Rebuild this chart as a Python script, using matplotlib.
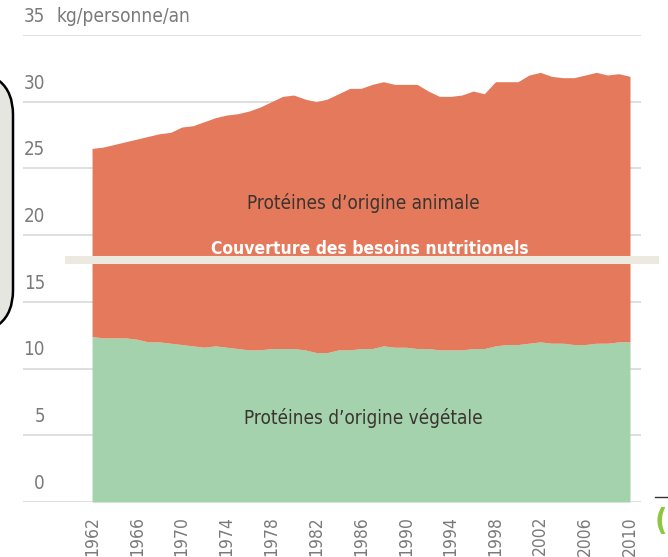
import numpy as np
import matplotlib
matplotlib.use('Agg')
import matplotlib.pyplot as plt
from matplotlib.patches import FancyBboxPatch

# values (kg/personne/an), one per year 1962-2010
years = list(range(1962, 2011))
total = [26.5, 26.6, 26.8, 27.0, 27.2, 27.4, 27.6, 27.7, 28.1, 28.2,
         28.5, 28.8, 29.0, 29.1, 29.3, 29.6, 30.0, 30.4, 30.5, 30.2,
         30.0, 30.2, 30.6, 31.0, 31.0, 31.3, 31.5, 31.3, 31.3, 31.3,
         30.8, 30.4, 30.4, 30.5, 30.8, 30.6, 31.5, 31.5, 31.5, 32.0,
         32.2, 31.9, 31.8, 31.8, 32.0, 32.2, 32.0, 32.1, 31.9]
vegetale = [12.4, 12.3, 12.3, 12.3, 12.2, 12.0, 12.0, 11.9, 11.8, 11.7,
            11.6, 11.7, 11.6, 11.5, 11.4, 11.4, 11.5, 11.5, 11.5, 11.4,
            11.2, 11.2, 11.4, 11.4, 11.5, 11.5, 11.7, 11.6, 11.6, 11.5,
            11.5, 11.4, 11.4, 11.4, 11.5, 11.5, 11.7, 11.8, 11.8, 11.9,
            12.0, 11.9, 11.9, 11.8, 11.8, 11.9, 11.9, 12.0, 12.0]
tick_years = list(range(1962, 2011, 4))
y_ticks = [0, 5, 10, 15, 20, 25, 30, 35]
besoins = 18.1

label_animale = "Protéines d\u2019origine animale"
label_vegetale = "Protéines d\u2019origine végétale"
label_besoins = "Couverture des besoins nutritionels"
unite = "kg/personne/an"

orange = '#E4795C'
green = '#A4D2AC'
beige = '#ECEAE0'
grey_txt = '#7A7A7A'

plt.rcParams['font.family'] = ['DejaVu Sans']
plt.rcParams['font.stretch'] = 'condensed'

fig = plt.figure(figsize=(6.68, 5.57), dpi=100)
W, H = 668, 557
ax = fig.add_axes([23 / W, (H - 502) / H, 618 / W, 467 / H])

years = np.array(years)
ax.fill_between(years, 0, vegetale, color=green, lw=0, zorder=2)
ax.fill_between(years, vegetale, total, color=orange, lw=0, zorder=2)

ax.set_xlim(1962 - 69 / 11.2, 2010 + 11 / 11.2)
ax.set_ylim(0, 35)

ax.set_yticks(y_ticks)
ax.yaxis.grid(True, color='#DCDCDC', lw=1.3, zorder=0)
ax.tick_params(axis='y', length=0, labelleft=False)
for s in ax.spines.values():
    s.set_visible(False)

ax.set_xticks(tick_years)
ax.set_xticklabels([str(y) for y in tick_years], rotation=90, fontsize=12.5,
                   color=grey_txt)
ax.tick_params(axis='x', length=0, pad=10)

# y labels sit above their gridline, on the left
xr = (45 - 23) / 618
for v in y_ticks:
    ax.text(xr, v + 1.4, str(v), transform=ax.get_yaxis_transform(),
            ha='right', va='center', fontsize=13.5, color=grey_txt)
ax.text((57 - 23) / 618, 35 + 1.4, unite, transform=ax.get_yaxis_transform(),
        ha='left', va='center', fontsize=13.7, color=grey_txt)

# needs line
ax.axhline(besoins, xmin=(69 - 23) / 618, xmax=(655 - 23) / 618, color=beige,
           lw=5.8, clip_on=False, zorder=3)
ax.text(1986.8, besoins + 0.85, label_besoins, ha='center', va='center',
        fontsize=12.5, fontweight='bold', color='white', zorder=4)

ax.text(1986.2, 22.4, label_animale, ha='center', va='center', fontsize=13.6,
        color='#3B3430', zorder=4)
ax.text(1986.2, 6.3, label_vegetale, ha='center', va='center', fontsize=13.6,
        color='#3B3430', zorder=4)

# slide remnants around the chart
panel = FancyBboxPatch((-200 / W, (H - 335) / H), 213 / W, 265 / H,
                       boxstyle='round,pad=0,rounding_size=0.08',
                       transform=fig.transFigure, facecolor='#E6E6E1',
                       edgecolor='black', lw=1.8, zorder=0)
fig.patches.append(panel)
fig.lines.append(plt.Line2D([655 / W, 1], [(H - 497) / H] * 2,
                            transform=fig.transFigure, color='#333333', lw=1))
fig.text(655 / W, (H - 522) / H, '(', color='#8DC63F', fontsize=22,
         fontweight='bold', va='center', ha='left')

fig.savefig('out.png', dpi=100)
